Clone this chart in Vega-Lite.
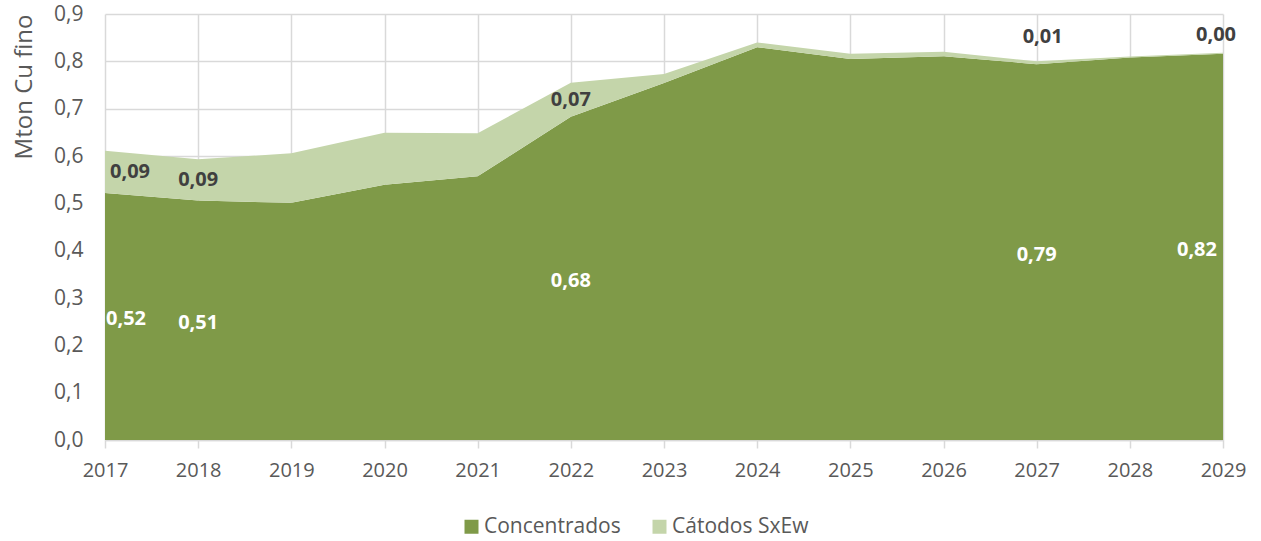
{
  "$schema": "https://vega.github.io/schema/vega-lite/v6.json",
  "width": 1118,
  "height": 426,
  "autosize": "none",
  "padding": {"left": 105, "top": 14, "right": 38, "bottom": 101},
  "config": {
    "locale": {"number": {"decimal": ",", "thousands": ".", "grouping": [3], "currency": ["", " €"]}},
    "view": {"stroke": null},
    "font": "Open Sans"
  },
  "data": {
    "values": [
      {"year": 2017, "serie": "Concentrados", "value": 0.522},
      {"year": 2018, "serie": "Concentrados", "value": 0.506},
      {"year": 2019, "serie": "Concentrados", "value": 0.501},
      {"year": 2020, "serie": "Concentrados", "value": 0.539},
      {"year": 2021, "serie": "Concentrados", "value": 0.557},
      {"year": 2022, "serie": "Concentrados", "value": 0.683},
      {"year": 2023, "serie": "Concentrados", "value": 0.754},
      {"year": 2024, "serie": "Concentrados", "value": 0.830},
      {"year": 2025, "serie": "Concentrados", "value": 0.805},
      {"year": 2026, "serie": "Concentrados", "value": 0.811},
      {"year": 2027, "serie": "Concentrados", "value": 0.794},
      {"year": 2028, "serie": "Concentrados", "value": 0.808},
      {"year": 2029, "serie": "Concentrados", "value": 0.816},
      {"year": 2017, "serie": "Cátodos SxEw", "value": 0.089},
      {"year": 2018, "serie": "Cátodos SxEw", "value": 0.087},
      {"year": 2019, "serie": "Cátodos SxEw", "value": 0.105},
      {"year": 2020, "serie": "Cátodos SxEw", "value": 0.110},
      {"year": 2021, "serie": "Cátodos SxEw", "value": 0.091},
      {"year": 2022, "serie": "Cátodos SxEw", "value": 0.072},
      {"year": 2023, "serie": "Cátodos SxEw", "value": 0.019},
      {"year": 2024, "serie": "Cátodos SxEw", "value": 0.010},
      {"year": 2025, "serie": "Cátodos SxEw", "value": 0.011},
      {"year": 2026, "serie": "Cátodos SxEw", "value": 0.009},
      {"year": 2027, "serie": "Cátodos SxEw", "value": 0.006},
      {"year": 2028, "serie": "Cátodos SxEw", "value": 0.002},
      {"year": 2029, "serie": "Cátodos SxEw", "value": 0.002}
    ]
  },
  "transform": [
    {"calculate": "datum.serie === 'Concentrados' ? 0 : 1", "as": "ord"}
  ],
  "layer": [
    {
      "mark": {"type": "area", "opacity": 1},
      "encoding": {
        "x": {
          "field": "year", "type": "ordinal",
          "scale": {"type": "point", "padding": 0},
          "axis": {
            "title": null, "labelAngle": 0, "labelFontSize": 20, "labelColor": "#595959",
            "labelFont": "Open Sans",
            "grid": true, "gridColor": "#D9D9D9", "gridWidth": 1.5,
            "domainColor": "#D9D9D9", "domainWidth": 1.5,
            "tickColor": "#D9D9D9", "tickSize": 8, "tickWidth": 1.5,
            "labelPadding": 12
          }
        },
        "y": {
          "field": "value", "type": "quantitative", "stack": "zero",
          "scale": {"domain": [0, 0.9], "nice": false},
          "axis": {
            "title": "Mton Cu fino", "titleFontSize": 24, "titleFontWeight": "normal",
            "titleColor": "#595959", "titleFont": "Open Sans", "titleAnchor": "end", "titlePadding": 17,
            "values": [0, 0.1, 0.2, 0.3, 0.4, 0.5, 0.6, 0.7, 0.8, 0.9],
            "format": ".1f", "labelFontSize": 21, "labelColor": "#595959", "labelFont": "Open Sans",
            "labelPadding": 22, "domain": false, "ticks": false,
            "grid": true, "gridColor": "#D9D9D9", "gridWidth": 1.5
          }
        },
        "color": {
          "field": "serie", "type": "nominal",
          "scale": {"domain": ["Concentrados", "Cátodos SxEw"], "range": ["#7F9A48", "#C4D5AA"]},
          "legend": {
            "title": null, "orient": "none", "direction": "horizontal",
            "legendX": 356, "legendY": 502,
            "symbolType": "square", "symbolSize": 196, "symbolStrokeWidth": 0, "symbolOpacity": 1,
            "labelFontSize": 21, "labelColor": "#595959", "labelFont": "Open Sans",
            "labelOffset": 2, "columnPadding": 28
          }
        },
        "order": {"field": "ord", "type": "quantitative"}
      }
    },
    {
      "transform": [
        {"stack": "value", "groupby": ["year"], "sort": [{"field": "ord"}], "as": ["v0", "v1"]},
        {"calculate": "(datum.v0 + datum.v1) / 2", "as": "mid"},
        {"filter": "datum.serie === 'Concentrados' && indexof([2017, 2018, 2022, 2027, 2029], datum.year) >= 0"}
      ],
      "mark": {
        "type": "text", "fontWeight": "bold", "fontSize": 20, "color": "#FFFFFF", "font": "Open Sans",
        "baseline": "middle", "dy": 3,
        "align": {"expr": "datum.year == 2017 ? 'left' : datum.year == 2029 ? 'right' : 'center'"},
        "dx": {"expr": "datum.year == 2017 ? 1 : datum.year == 2029 ? -6 : 0"}
      },
      "encoding": {
        "x": {"field": "year", "type": "ordinal"},
        "y": {"field": "mid", "type": "quantitative", "stack": null},
        "text": {"field": "value", "type": "quantitative", "format": ".2f"}
      }
    },
    {
      "transform": [
        {"stack": "value", "groupby": ["year"], "sort": [{"field": "ord"}], "as": ["v0", "v1"]},
        {"calculate": "(datum.v0 + datum.v1) / 2", "as": "mid"},
        {"filter": "datum.serie !== 'Concentrados' && indexof([2017, 2018, 2022], datum.year) >= 0"}
      ],
      "mark": {
        "type": "text", "fontWeight": "bold", "fontSize": 20, "color": "#404040", "font": "Open Sans",
        "baseline": "middle",
        "align": {"expr": "datum.year == 2017 ? 'left' : 'center'"},
        "dx": {"expr": "datum.year == 2017 ? 5 : 0"}
      },
      "encoding": {
        "x": {"field": "year", "type": "ordinal"},
        "y": {"field": "mid", "type": "quantitative", "stack": null},
        "text": {"field": "value", "type": "quantitative", "format": ".2f"}
      }
    },
    {
      "transform": [
        {"stack": "value", "groupby": ["year"], "sort": [{"field": "ord"}], "as": ["v0", "v1"]},
        {"filter": "datum.serie !== 'Concentrados' && indexof([2027, 2029], datum.year) >= 0"}
      ],
      "mark": {
        "type": "text", "fontWeight": "bold", "fontSize": 20, "color": "#404040", "font": "Open Sans",
        "baseline": "bottom", "align": "center",
        "dy": {"expr": "datum.year == 2029 ? -8 : -14"},
        "dx": {"expr": "datum.year == 2029 ? -7 : 6"}
      },
      "encoding": {
        "x": {"field": "year", "type": "ordinal"},
        "y": {"field": "v1", "type": "quantitative", "stack": null},
        "text": {"field": "value", "type": "quantitative", "format": ".2f"}
      }
    }
  ]
}
